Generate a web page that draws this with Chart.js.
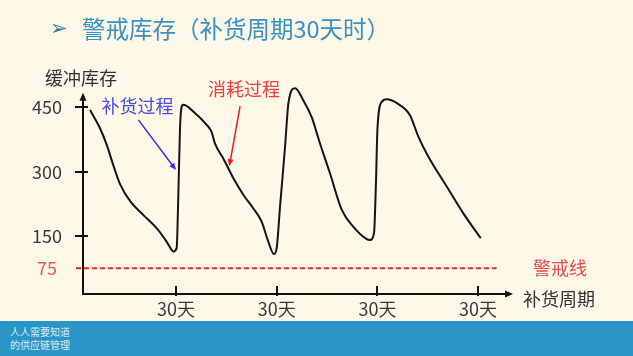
<!DOCTYPE html>
<html>
<head>
<meta charset="utf-8">
<script src="https://cdn.jsdelivr.net/npm/chart.js@4/dist/chart.umd.min.js"></script>
<style>
  html,body{margin:0;padding:0;}
  body{width:633px;height:356px;overflow:hidden;background:#fdf8e8;position:relative;
       font-family:'Noto Sans CJK SC','Noto Sans',sans-serif;}
  #c{position:absolute;left:0;top:0;}
  .title{position:absolute;left:50px;top:12px;height:32px;line-height:32px;color:#3a92c2;font-size:23.5px;white-space:nowrap;}
  .title .mk{font-family:'DejaVu Sans',sans-serif;font-weight:bold;font-size:21px;color:#1f7fae;display:inline-block;width:32px;vertical-align:top;}
  .lbl{position:absolute;white-space:nowrap;color:#333;font-size:18px;line-height:22px;}
  .banner{position:absolute;left:0;top:321px;width:633px;height:35px;background:#2a96c7;}
  .banner .t{position:absolute;left:10px;top:4px;font-size:10px;line-height:13px;color:rgba(255,255,255,0.85);}
</style>
</head>
<body>
<canvas id="c" width="633" height="356"></canvas>
<div class="title"><span class="mk">➢</span>警戒库存（补货周期30天时）</div>
<div class="lbl" style="left:45px;top:66px;">缓冲库存</div>
<div class="lbl" style="left:523px;top:287px;">补货周期</div>
<div class="banner"><div class="t">人人需要知道<br>的供应链管理</div></div>
<script>
// ---- data ----
const days  = [4.4, 7.4, 9.4, 11.3, 13.3, 16.3, 20.3, 24.3, 27.2, 28.7, 29.2, 30.2, 30.7, 31.2, 31.7, 32.2,
               35.2, 39.2, 40.6, 41.6, 44.1, 47.1, 50.1, 53.0, 55.5, 57.5, 59.2, 60.0, 61.0, 62.5, 63.5, 65.5,
               67.9, 70.4, 72.9, 75.9, 79.4, 82.8, 86.8, 87.8, 89.0, 89.6, 90.0, 91.3, 92.8,
               95.8, 99.7, 102.2, 105.2, 110.7, 115.6, 120.8];
const stock = [444, 401, 362, 316, 272, 232, 199, 168, 137, 118, 114, 122, 246, 401, 452, 456,
               440, 409, 393, 366, 331, 285, 246, 215, 184, 137, 108, 122, 219, 359, 460, 495,
               467, 428, 366, 296, 211, 172, 143, 141, 157, 281, 397, 463, 469,
               460, 432, 382, 335, 265, 203, 145];
const warnLevel = 75;
const warnDays = [0.2, 125.5];
const xTicks = [30, 60, 90, 120];
const xTickLabels = ['30天', '30天', '30天', '30天'];
const yTicks = [75, 150, 300, 450];
const yTickMarks = [150, 300, 450];
const yTickLabels = ['75', '150', '300', '450'];
const annoTexts = ['补货过程', '消耗过程', '警戒线'];

// ---- annotation anchors (data units) ----
const annos = [
  {text: annoTexts[0], at: [18.5, 454], color: '#4a4ae0', arrow: [[18.8, 421], [30.0, 304]], arrowColor: '#3434e6'},
  {text: annoTexts[1], at: [50.3, 493], color: '#e8403a', arrow: [[49.1, 453], [45.9, 313]], arrowColor: '#ee1c1c'},
  {text: annoTexts[2], at: [144.4, 75], color: '#e84a4a'}
];
const yAxisEnd = 484;
const FONT = "'Noto Sans CJK SC','Noto Sans',sans-serif";

const deco = {
  id: 'deco',
  afterDatasetsDraw(chart) {
    const {ctx, chartArea: a, scales: {x, y}} = chart;
    ctx.save();
    ctx.strokeStyle = '#111'; ctx.fillStyle = '#111'; ctx.lineWidth = 2; ctx.lineCap = 'butt';
    const x0 = a.left, y0 = a.bottom;
    const yTop = y.getPixelForValue(yAxisEnd);
    ctx.beginPath();
    ctx.moveTo(x0, y0 + 1); ctx.lineTo(x0, yTop + 4);
    ctx.moveTo(x0 - 1, y0); ctx.lineTo(a.right - 4, y0);
    ctx.stroke();
    // arrowheads
    ctx.beginPath(); ctx.moveTo(x0, yTop); ctx.lineTo(x0 - 3.5, yTop + 8); ctx.lineTo(x0 + 3.5, yTop + 8); ctx.closePath(); ctx.fill();
    ctx.beginPath(); ctx.moveTo(a.right, y0); ctx.lineTo(a.right - 8, y0 - 3.5); ctx.lineTo(a.right - 8, y0 + 3.5); ctx.closePath(); ctx.fill();
    // tick marks
    ctx.beginPath();
    yTickMarks.forEach(v => { const p = Math.round(y.getPixelForValue(v)); ctx.moveTo(x0 - 8, p); ctx.lineTo(x0 + 5, p); });
    xTicks.forEach(v => { const p = Math.round(x.getPixelForValue(v)); ctx.moveTo(p, y0 - 8); ctx.lineTo(p, y0 + 2); });
    ctx.stroke();
    // annotations
    annos.forEach(an => {
      ctx.font = '18px ' + FONT;
      ctx.fillStyle = an.color; ctx.textAlign = 'center'; ctx.textBaseline = 'middle';
      ctx.fillText(an.text, x.getPixelForValue(an.at[0]), y.getPixelForValue(an.at[1]));
      if (an.arrow) {
        const sx = x.getPixelForValue(an.arrow[0][0]), sy = y.getPixelForValue(an.arrow[0][1]);
        const ex = x.getPixelForValue(an.arrow[1][0]), ey = y.getPixelForValue(an.arrow[1][1]);
        const ang = Math.atan2(ey - sy, ex - sx);
        ctx.strokeStyle = an.arrowColor; ctx.fillStyle = an.arrowColor; ctx.lineWidth = 1.5;
        ctx.beginPath(); ctx.moveTo(sx, sy); ctx.lineTo(ex - 5 * Math.cos(ang), ey - 5 * Math.sin(ang)); ctx.stroke();
        ctx.beginPath();
        ctx.moveTo(ex, ey);
        ctx.lineTo(ex - 7 * Math.cos(ang) + 3 * Math.sin(ang), ey - 7 * Math.sin(ang) - 3 * Math.cos(ang));
        ctx.lineTo(ex - 7 * Math.cos(ang) - 3 * Math.sin(ang), ey - 7 * Math.sin(ang) + 3 * Math.cos(ang));
        ctx.closePath(); ctx.fill();
      }
    });
    ctx.restore();
  }
};

new Chart(document.getElementById('c'), {
  type: 'line',
  data: {
    datasets: [
      {
        data: days.map((d, i) => ({x: d, y: stock[i]})),
        borderColor: '#141414', borderWidth: 2, pointRadius: 0,
        cubicInterpolationMode: 'monotone', fill: false
      },
      {
        data: warnDays.map(d => ({x: d, y: warnLevel})),
        borderColor: '#e02424', borderWidth: 2, borderDash: [5, 3], pointRadius: 0,
        clip: false, fill: false
      }
    ]
  },
  options: {
    responsive: false, animation: false, devicePixelRatio: 1,
    layout: {padding: {left: 0, right: 120, top: 86, bottom: 0}},
    plugins: {legend: {display: false}, tooltip: {enabled: false}},
    scales: {
      x: {
        type: 'linear', min: 2.3, max: 130.4,
        grid: {display: false, drawTicks: false}, border: {display: false},
        afterBuildTicks: s => { s.ticks = xTicks.map(v => ({value: v})); },
        afterFit: s => { s.height = 62; },
        ticks: {
          autoSkip: false, maxRotation: 0, padding: 4, color: '#3a3a3a',
          font: {family: FONT, size: 18},
          callback: (v) => xTickLabels[xTicks.indexOf(v)]
        }
      },
      y: {
        type: 'linear', min: 15, max: 500,
        grid: {display: false, drawTicks: false}, border: {display: false},
        afterBuildTicks: s => { s.ticks = yTicks.map(v => ({value: v})); },
        afterFit: s => { s.width = 83; },
        ticks: {
          autoSkip: false, crossAlign: 'center', padding: 21,
          font: {family: FONT, size: 18},
          color: c => (c.tick && c.tick.value === warnLevel) ? '#e05a5a' : '#3a3a3a',
          callback: (v) => yTickLabels[yTicks.indexOf(v)]
        }
      }
    }
  },
  plugins: [deco]
});
</script>
</body>
</html>
